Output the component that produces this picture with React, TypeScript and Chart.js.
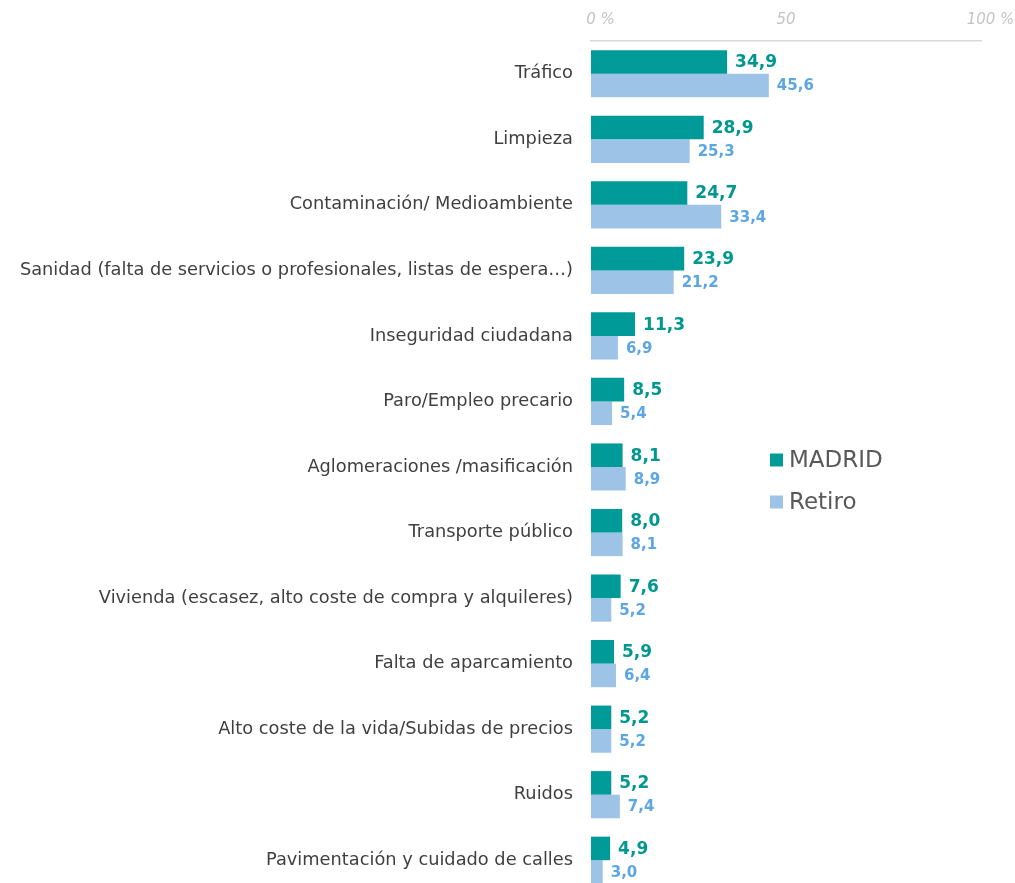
import React, { useEffect, useRef } from "react";
import { Chart, registerables } from "chart.js";

Chart.register(...registerables);

const categories = [
  "Tráfico",
  "Limpieza",
  "Contaminación/ Medioambiente",
  "Sanidad (falta de servicios o profesionales, listas de espera…)",
  "Inseguridad ciudadana",
  "Paro/Empleo precario",
  "Aglomeraciones /masificación",
  "Transporte público",
  "Vivienda (escasez, alto coste de compra y alquileres)",
  "Falta de aparcamiento",
  "Alto coste de la vida/Subidas de precios",
  "Ruidos",
  "Pavimentación y cuidado de calles",
];
const madrid = [34.9, 28.9, 24.7, 23.9, 11.3, 8.5, 8.1, 8.0, 7.6, 5.9, 5.2, 5.2, 4.9];
const retiro = [45.6, 25.3, 33.4, 21.2, 6.9, 5.4, 8.9, 8.1, 5.2, 6.4, 5.2, 7.4, 3.0];
const seriesNames = ["MADRID", "Retiro"];
const xTickValues = [0, 50, 100];
const xTickNumbers = ["0", "50", "100"];
const xTickSuffixes = [" %", "", " %"];

const TEAL = "#009B98";
const LIGHT = "#9DC3E6";
const TEAL_TXT = "#00978F";
const LIGHT_TXT = "#5BA6E3";
const FONT = "'DejaVu Sans', sans-serif";

const fmt = (v: number) => v.toFixed(1).replace(".", ",");

const customPlugin = {
  id: "custom",
  afterDatasetsDraw(chart: any) {
    const ctx = chart.ctx;
    ctx.save();
    // value labels
    chart.data.datasets.forEach((ds: any, di: number) => {
      const meta = chart.getDatasetMeta(di);
      meta.data.forEach((bar: any, i: number) => {
        const v = ds.data[i];
        ctx.font = di === 0 ? `bold 17px ${FONT}` : `bold 15px ${FONT}`;
        ctx.fillStyle = di === 0 ? TEAL_TXT : LIGHT_TXT;
        ctx.textAlign = "left";
        ctx.textBaseline = "middle";
        ctx.fillText(fmt(v), bar.x + 8, bar.y + 1);
      });
    });
    // x tick labels
    const xs = chart.scales.x;
    ctx.font = `italic 15px ${FONT}`;
    ctx.fillStyle = "#C4C4C4";
    ctx.textBaseline = "middle";
    ctx.textAlign = "left";
    xTickValues.forEach((v, i) => {
      const px = xs.getPixelForValue(v);
      const w = ctx.measureText(xTickNumbers[i]).width;
      ctx.fillText(xTickNumbers[i] + xTickSuffixes[i], px - w / 2, 20);
    });
    // legend
    const lx = 770;
    const ly = [460, 502];
    const cols = [TEAL, LIGHT];
    ctx.font = `23px ${FONT}`;
    seriesNames.forEach((n, i) => {
      ctx.fillStyle = cols[i];
      ctx.fillRect(lx, ly[i] - 6.5, 13, 13);
      ctx.fillStyle = "#595959";
      ctx.textAlign = "left";
      ctx.textBaseline = "middle";
      ctx.fillText(n, lx + 19, ly[i] + 1);
    });
    ctx.restore();
  },
};

export default function App() {
  const ref = useRef<HTMLCanvasElement>(null);
  useEffect(() => {
    if (!ref.current) return;
    const chart = new Chart(ref.current, {
      type: "bar",
      data: {
        labels: categories,
        datasets: [
          {
            label: seriesNames[0],
            data: madrid,
            backgroundColor: TEAL,
            categoryPercentage: 0.72,
            barPercentage: 1,
          },
          {
            label: seriesNames[1],
            data: retiro,
            backgroundColor: LIGHT,
            categoryPercentage: 0.72,
            barPercentage: 1,
          },
        ],
      },
      options: {
        indexAxis: "y",
        animation: false,
        responsive: false,
        maintainAspectRatio: false,
        layout: { padding: { left: 0, right: 34, top: 0, bottom: 2 } },
        plugins: { legend: { display: false }, tooltip: { enabled: false } },
        scales: {
          x: {
            position: "top",
            min: 0,
            max: 100,
            grid: { display: false, drawTicks: false },
            border: { display: true, color: "#D9D9D9", width: 1.5 },
            ticks: { display: false, stepSize: 50 },
            afterFit: (s: any) => {
              s.height = 41;
              s.paddingLeft = 0;
              s.paddingRight = 0;
            },
          },
          y: {
            grid: { display: false, drawTicks: false },
            border: { display: false },
            ticks: {
              padding: 18,
              color: "#404040",
              font: { family: FONT, size: 17.8 },
            },
            afterFit: (s: any) => {
              s.width = 591;
              s.paddingTop = 0;
              s.paddingBottom = 0;
            },
          },
        },
      },
      plugins: [customPlugin],
    } as any);
    return () => chart.destroy();
  }, []);
  return (
    <div style={{ position: "absolute", left: 0, top: 0, width: 1015, height: 895 }}>
      <canvas ref={ref} width={1015} height={895} style={{ width: 1015, height: 895 }} />
    </div>
  );
}
